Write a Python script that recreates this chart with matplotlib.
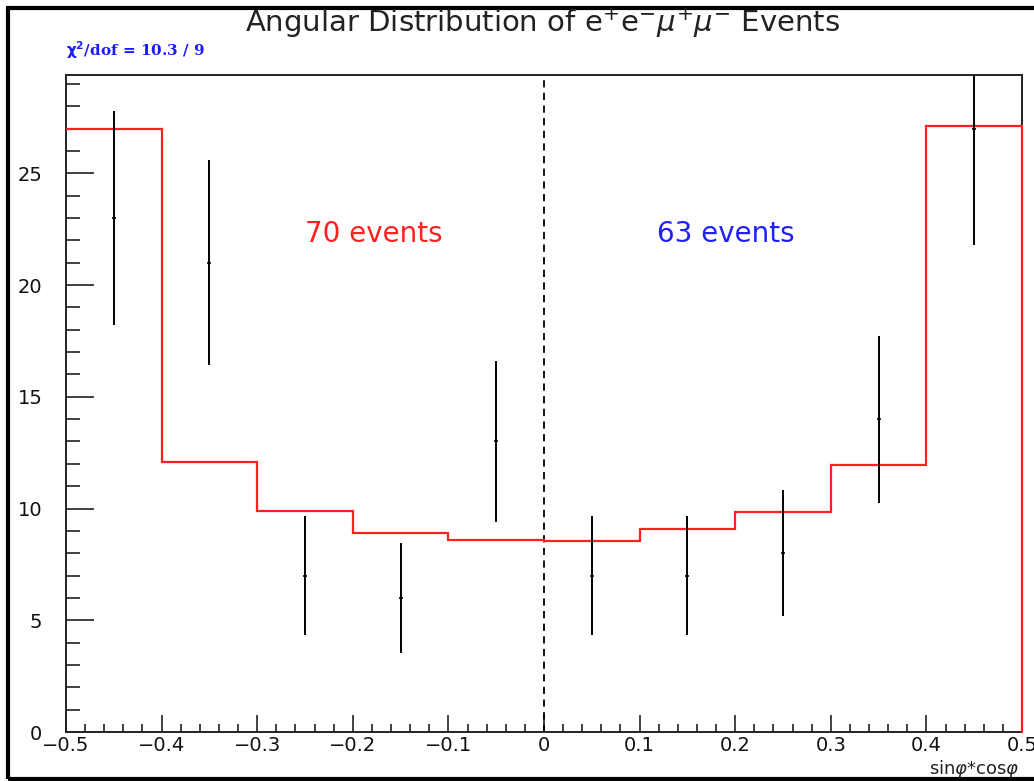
import numpy as np
import matplotlib
matplotlib.use("Agg")
import matplotlib.pyplot as plt
from matplotlib.ticker import MultipleLocator
from matplotlib.patches import Rectangle

# Data
bin_edges = [-0.5, -0.4, -0.3, -0.2, -0.1, 0.0, 0.1, 0.2, 0.3, 0.4, 0.5]
fit_values = [27.0, 12.1, 9.9, 8.9, 8.6, 8.55, 9.1, 9.85, 11.95, 27.1]
counts = [23, 21, 7, 6, 13, 7, 7, 8, 14, 27]
x_ticks = [-0.5, -0.4, -0.3, -0.2, -0.1, 0.0, 0.1, 0.2, 0.3, 0.4, 0.5]
x_tick_labels = ["\u22120.5", "\u22120.4", "\u22120.3", "\u22120.2", "\u22120.1", "0",
                 "0.1", "0.2", "0.3", "0.4", "0.5"]
y_ticks = [0, 5, 10, 15, 20, 25]
y_tick_labels = ["0", "5", "10", "15", "20", "25"]
title_text = r"Angular Distribution of e$^{+}$e$^{-}\mu^{+}\mu^{-}$ Events"
chi2_text = r"$\mathbf{\chi^{2}}$/dof = 10.3 / 9"
left_label = "70 events"
right_label = "63 events"
xlabel_text = r"sin$\varphi$*cos$\varphi$"

edges = np.array(bin_edges)
centers = 0.5 * (edges[:-1] + edges[1:])
cnt = np.array(counts, dtype=float)
errs = np.sqrt(cnt)

fig = plt.figure(figsize=(10.34, 7.81), dpi=100)
ax = fig.add_axes([66/1034, 1-732/781, (1022-66)/1034, (732-75)/781])

# fit histogram
ax.stairs(fit_values, edges, color="#ff2020", lw=1.6, baseline=None, zorder=3)
ax.plot([edges[-1], edges[-1]], [0, fit_values[-1]], color="#ff2020", lw=1.6, zorder=3, clip_on=False)

# data points with error bars
ax.errorbar(centers, cnt, yerr=errs, fmt='none', ecolor='black', elinewidth=1.4, capsize=0, zorder=4)
ax.plot(centers, cnt, linestyle='none', marker='_', color='black', markersize=3, mew=1.2, zorder=4)

# dashed line at 0
ax.axvline(0.0, color='black', lw=1.3, ls=(0, (4, 3)), zorder=2)

ax.set_xlim(-0.5, 0.5)
ax.set_ylim(0, 29.4)

ax.xaxis.set_minor_locator(MultipleLocator(0.02))
ax.yaxis.set_minor_locator(MultipleLocator(1))
ax.set_xticks(x_ticks)
ax.set_xticklabels(x_tick_labels)
ax.set_yticks(y_ticks)
ax.set_yticklabels(y_tick_labels)
ax.tick_params(axis='both', which='both', direction='in', top=False, right=False, width=1.3,
               colors='#333333', labelcolor='#111111')
ax.tick_params(axis='x', which='major', length=12, labelsize=14, pad=3)
ax.tick_params(axis='x', which='minor', length=6)
ax.tick_params(axis='y', which='major', length=20, labelsize=14, pad=17)
ax.tick_params(axis='y', which='minor', length=10)

for sp in ax.spines.values():
    sp.set_linewidth(1.4)
    sp.set_color('#222222')

fig.text(543/1034, 1-23/781, title_text, ha='center', va='center', fontsize=21, color='#222222')
fig.text(66/1034, 1-50/781, chi2_text, ha='left', va='center', fontsize=11, color='#1a1aff',
         family='DejaVu Serif', weight='bold')
ax.text(-0.178, 22.3, left_label, ha='center', va='center', fontsize=20, color='#ff2020')
ax.text(0.19, 22.3, right_label, ha='center', va='center', fontsize=20, color='#2020ff')
fig.text(1020/1034, 1-769/781, xlabel_text, ha='right', va='center', fontsize=13, color='#222222')

# outer frame
fig.patches.append(Rectangle((8/1034, 1-779/781), 1.0, (779-8)/781, transform=fig.transFigure,
                             fill=False, edgecolor='black', lw=3))

fig.savefig("out.png", dpi=100)
